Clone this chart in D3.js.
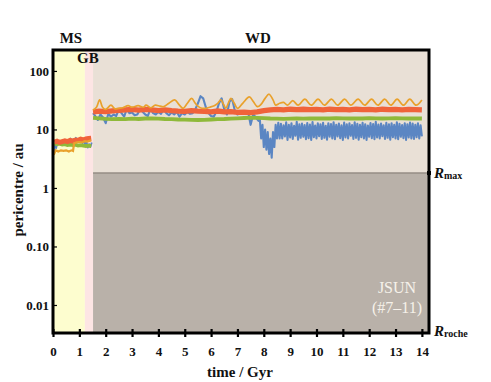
<!DOCTYPE html>
<html>
<head>
<meta charset="utf-8">
<script src="https://cdn.jsdelivr.net/npm/d3@7"></script>
<style>
  html, body { margin: 0; padding: 0; background: #ffffff; }
  svg { display: block; }
  text { font-family: "Liberation Serif", "DejaVu Serif", serif; }
</style>
</head>
<body>
<svg id="chart" width="491" height="382"></svg>
<script>
// ---------------- data ----------------
const xTicks = [0,1,2,3,4,5,6,7,8,9,10,11,12,13,14];
const yTicks = [100, 10, 1, 0.1, 0.01];
const yTickLabels = ["100", "10", "1", "0.10", "0.01"];

const phaseNames = ["MS", "GB", "WD"];
const phaseStart = [0, 1.21, 1.52];
const phaseEnd   = [1.21, 1.52, 14.27];
const rMax = 1.8;
const rRoche = 0.00332;

const msT = [0.05,0.15,0.25,0.35,0.45,0.55,0.65,0.75,0.85,0.95,1.05,1.15,1.25,1.35,1.45];
const redMsV   = [6.1,6.3,6.0,6.2,6.4,6.2,6.5,6.3,6.6,6.5,6.8,6.6,6.9,7.0,7.1];
const greenMsV = [5.8,5.6,5.7,5.5,5.6,5.4,5.5,5.4,5.5,5.3,5.4,5.3,5.2,5.3,5.2];

const wdT = [1.52,1.75,2,2.25,2.5,2.75,3,3.25,3.5,3.75,4,4.25,4.5,4.75,5,5.25,5.5,5.75,6,6.25,
             6.5,6.75,7,7.25,7.5,7.75,8,8.25,8.5,8.75,9,9.25,9.5,9.75,10,10.25,10.5,10.75,11,11.25,
             11.5,11.75,12,12.25,12.5,12.75,13,13.25,13.5,13.75,14];
const redWdV = [20,20.6,20.2,20.8,21.2,21.6,22,21.4,22,21.6,
                21,21.6,21,20.6,20.4,21,20.6,20.4,20,20.6,
                20,20.2,19.6,19.8,19.4,20,21,21.6,22,21.6,
                22.2,21.8,22.2,21.8,22,21.6,22.2,21.8,22,21.6,
                22.2,21.8,22,21.6,22.2,21.8,22,21.6,22,21.8,21.6];
const greenWdV = [15.8,15.5,15.2,15.0,15.2,15.0,15.3,15.1,15.4,15.5,
                  15.3,15.1,15.0,14.8,14.7,14.6,14.5,14.6,14.8,15.0,
                  15.1,15.3,15.5,15.7,15.9,15.8,15.6,15.4,15.3,15.2,
                  15.3,15.4,15.3,15.5,15.4,15.5,15.4,15.6,15.5,15.4,
                  15.5,15.4,15.6,15.5,15.4,15.5,15.6,15.5,15.4,15.5,15.4];

const orangeMs = [[0.03,3.7],[0.1,4.4],[0.2,4.2],[0.3,4.4],[0.4,4.3],[0.5,4.4],[0.6,4.2],[0.7,4.4],
                  [0.76,4.3],[0.8,5.8],[0.9,6.0],[1.0,6.1],[1.1,6.0],[1.2,6.3],[1.3,6.2],[1.45,6.5]];
const orangeWd = [[1.52,21.5],[1.65,24],[1.77,32],[1.88,24],[2.0,22],[2.2,26],[2.35,22.5],[2.5,23],
                  [2.65,23.5],[2.85,25.5],[3.0,24],[3.23,25.5],[3.43,24],[3.53,26],[3.72,23.5],[3.88,26],
                  [4.06,25],[4.2,24.5],[4.4,28],[4.62,32],[4.8,26],[4.94,23],[5.1,28],[5.26,34],
                  [5.4,28],[5.52,24.5],[5.65,23],[5.8,23],[5.95,24],[6.12,25.5],[6.25,28],[6.37,32],
                  [6.47,27],[6.56,23],[6.65,28],[6.75,34],[6.88,28],[7.0,23],[7.2,28],[7.45,36],
                  [7.6,30],[7.76,24.5],[7.9,27],[8.05,34],[8.2,40],[8.35,32],[8.45,26],[8.6,28],
                  [8.75,29],[8.9,26],[9.1,31],[9.3,26],[9.56,33],[9.8,26],[10.06,33],[10.3,26],
                  [10.57,33],[10.8,26],[11.07,33],[11.3,26],[11.58,33],[11.83,26],[12.09,33],[12.33,26],
                  [12.59,33],[12.82,26],[13.06,33],[13.3,26],[13.54,33],[13.78,26],[14.0,32]];

const blueMs = [[0.02,4.0],[0.07,5.5],[0.12,4.8],[0.17,6.0],[0.22,5.6],[0.27,6.2],[0.32,5.8],[0.37,6.5],
                [0.42,6.0],[0.47,6.3],[0.52,5.9],[0.57,6.6],[0.62,6.1],[0.67,7.0],[0.72,6.2],[0.77,6.8],
                [0.82,6.3],[0.87,7.2],[0.92,6.4],[0.97,6.9],[1.02,6.2],[1.07,6.7],[1.12,5.8],[1.17,6.5],
                [1.22,5.5],[1.27,6.3],[1.32,4.9],[1.37,5.6],[1.42,5.0],[1.47,6.0]];
const blueWd = [[1.52,19],[1.6,17],[1.7,14.5],[1.8,18],[1.9,16],[2.0,12.8],[2.1,18.5],[2.2,16.5],[2.3,18],[2.4,17],
                [2.5,22],[2.6,19],[2.7,16.5],[2.8,22.5],[2.9,19],[3.0,19.5],[3.1,17.5],[3.2,18],[3.3,22],[3.4,20],
                [3.5,18],[3.6,17],[3.7,22.5],[3.8,19],[3.9,18],[4.0,20],[4.1,18.5],[4.2,22],[4.3,19],[4.4,17.5],
                [4.5,19.5],[4.6,18],[4.7,20],[4.8,16.5],[4.9,19],[5.0,18],[5.1,20],[5.2,18.5],[5.3,19],[5.4,22],
                [5.5,28],[5.6,37],[5.7,34],[5.8,24],[5.9,19],[6.0,17],[6.1,16.5],[6.2,20],[6.3,28],[6.4,34],
                [6.5,22],[6.6,18],[6.7,30],[6.8,33],[6.9,21],[7.0,18],[7.1,19],[7.2,20],[7.3,19.5],[7.4,20.5],
                [7.5,12],[7.6,18],[7.7,16],[7.8,14]];
// late oscillating part of the blue orbit, sampled every 0.05 Gyr from 7.85 Gyr
const blueBandStart = 7.85, blueBandStep = 0.05;
const blueBandV = [15,7,12,5,10,4.5,9,3.8,7,3.3,9,5,12,7,13,7,
  12.5,7.0,11.8,7.6,13.2,6.6,12.0,7.3,12.8,6.9,
  11.5,7.8,13.5,6.7,12.2,7.2,12.6,7.5,11.9,6.8,
  12.9,7.1,12.1,6.6,13.4,7.4,11.7,7.0,12.7,7.7,
  12.3,6.9,13.0,7.2,11.6,6.7,12.8,7.5,12.4,7.0,
  13.3,6.8,12.0,7.6,12.6,7.1,11.8,6.6,13.1,7.3,
  12.2,7.0,12.7,7.8,11.9,6.9,13.2,7.2,12.5,6.7,
  12.0,7.4,13.0,7.0,12.3,6.6,11.7,7.5,12.9,7.1,
  12.4,6.8,13.5,7.3,12.1,7.0,12.6,7.7,11.8,6.9,
  13.0,7.2,12.2,6.7,12.8,7.4,12.0,7.0,13.3,6.8,
  12.5,7.5,11.9,7.1,12.7,6.6,12.3,7.3,13.1,7.0,
  12.6,6.9,12.0,7.4,12.8,7.0,11.8,7.6];

// ---------------- layout ----------------
const L = 53, R = 429, T = 50, B = 333;
const COL = { blue: "#5b86c3", orange: "#e9a12c", red: "#f0633a", green: "#8fb93a" };

const svg = d3.select("#chart");
const x = d3.scaleLinear().domain([0, 14.27]).range([L, R]);
const y = d3.scaleLog().domain([rRoche, 228]).range([B, T]);

// backgrounds
const bg = svg.append("g");
bg.append("rect").attr("x", x(phaseStart[0])).attr("y", T)
  .attr("width", x(phaseEnd[0]) - x(phaseStart[0])).attr("height", B - T).attr("fill", "#fdfdcf");
bg.append("rect").attr("x", x(phaseStart[1])).attr("y", T)
  .attr("width", x(phaseEnd[1]) - x(phaseStart[1])).attr("height", B - T).attr("fill", "#fde5e4");
bg.append("rect").attr("x", x(phaseStart[2])).attr("y", T)
  .attr("width", x(phaseEnd[2]) - x(phaseStart[2])).attr("height", y(rMax) - T).attr("fill", "#e9e0d6");
bg.append("rect").attr("x", x(phaseStart[2])).attr("y", y(rMax))
  .attr("width", x(phaseEnd[2]) - x(phaseStart[2])).attr("height", B - y(rMax)).attr("fill", "#b9b1a9");
bg.append("line").attr("x1", x(phaseStart[2])).attr("x2", R).attr("y1", y(rMax)).attr("y2", y(rMax))
  .attr("stroke", "#958c84").attr("stroke-width", 1.5);

svg.append("defs").append("clipPath").attr("id", "clip")
  .append("rect").attr("x", L).attr("y", T).attr("width", R - L).attr("height", B - T);

const plot = svg.append("g").attr("clip-path", "url(#clip)");
const lineP = d3.line().x(d => x(d[0])).y(d => y(d[1]));
const zip = (ts, vs) => ts.map((t, i) => [t, vs[i]]);

const blueBand = blueBandV.map((v, i) => [blueBandStart + i * blueBandStep, v]);

// blue
plot.append("path").datum(blueMs).attr("d", lineP).attr("fill", "none")
  .attr("stroke", COL.blue).attr("stroke-width", 1.8).attr("stroke-linejoin", "round");
plot.append("path").datum(blueWd.concat(blueBand)).attr("d", lineP).attr("fill", "none")
  .attr("stroke", COL.blue).attr("stroke-width", 2.1).attr("stroke-linejoin", "round");
// green
plot.append("path").datum(zip(msT, greenMsV)).attr("d", lineP).attr("fill", "none")
  .attr("stroke", COL.green).attr("stroke-width", 3.8);
plot.append("path").datum(zip(wdT, greenWdV)).attr("d", lineP).attr("fill", "none")
  .attr("stroke", COL.green).attr("stroke-width", 3.8);
// red
plot.append("path").datum(zip(msT, redMsV)).attr("d", lineP).attr("fill", "none")
  .attr("stroke", COL.red).attr("stroke-width", 5);
plot.append("path").datum(zip(wdT, redWdV)).attr("d", lineP).attr("fill", "none")
  .attr("stroke", COL.red).attr("stroke-width", 5.4);
// orange
const lineC = d3.line().x(d => x(d[0])).y(d => y(d[1])).curve(d3.curveCatmullRom);
plot.append("path").datum(orangeMs).attr("d", lineP).attr("fill", "none")
  .attr("stroke", COL.orange).attr("stroke-width", 2.2);
plot.append("path").datum(orangeWd).attr("d", lineC).attr("fill", "none")
  .attr("stroke", COL.orange).attr("stroke-width", 1.7);

// axes
const xAxis = svg.append("g").attr("transform", `translate(0,${B})`)
  .call(d3.axisBottom(x).tickValues(xTicks).tickFormat(d3.format("d")).tickSize(4).tickPadding(10));
xAxis.select(".domain").remove();
xAxis.selectAll(".tick line").attr("y1", -4).attr("y2", 4).attr("stroke", "#000").attr("stroke-width", 2.2);
xAxis.selectAll(".tick text").attr("font-family", "Liberation Serif, serif").attr("font-weight", "bold")
  .attr("font-size", 13).attr("fill", "#111");

const yAxis = svg.append("g").attr("transform", `translate(${L},0)`)
  .call(d3.axisLeft(y).tickValues(yTicks).tickFormat((d, i) => yTickLabels[i]).tickSize(-4).tickPadding(4));
yAxis.select(".domain").remove();
yAxis.selectAll(".tick line").attr("stroke", "#000").attr("stroke-width", 1.2);
yAxis.selectAll(".tick text").attr("font-family", "Liberation Serif, serif").attr("font-weight", "bold")
  .attr("font-size", 13).attr("fill", "#111");

// frame
svg.append("rect").attr("x", L).attr("y", T).attr("width", R - L).attr("height", B - T)
  .attr("fill", "none").attr("stroke", "#000").attr("stroke-width", 3);
svg.append("rect").attr("x", R - 2).attr("y", y(rMax) - 2).attr("width", 4).attr("height", 4).attr("fill", "#000");

// phase labels
const lab = (tx, ty, s, size) => svg.append("text").attr("x", tx).attr("y", ty).text(s)
    .attr("font-weight", "bold").attr("font-size", size).attr("text-anchor", "middle").attr("fill", "#111");
lab((x(phaseStart[0]) + x(phaseEnd[0])) / 2 + 2, 43, phaseNames[0], 15);
lab(x(phaseStart[1]) + 3, 63, phaseNames[1], 15);
lab(258, 43, phaseNames[2], 15);

// axis titles
svg.append("text").attr("x", 240).attr("y", 377).attr("text-anchor", "middle")
  .attr("font-weight", "bold").attr("font-size", 15).attr("fill", "#111").text("time / Gyr");
svg.append("text").attr("transform", "translate(23,190) rotate(-90)").attr("text-anchor", "middle")
  .attr("font-weight", "bold").attr("font-size", 15).attr("fill", "#111").text("pericentre / au");

// R labels
const rLab = (ty, sub) => {
  const t = svg.append("text").attr("x", 434).attr("y", ty).attr("fill", "#111");
  t.append("tspan").attr("font-weight", "bold").attr("font-style", "italic").attr("font-size", 15).text("R");
  t.append("tspan").attr("font-weight", "bold").attr("font-size", 10).attr("dy", 1).text(sub);
};
rLab(y(rMax) + 5, "max");
rLab(B + 3, "roche");

// JSUN
svg.append("text").attr("x", 397).attr("y", 293).attr("text-anchor", "middle")
  .attr("font-size", 16).attr("fill", "#f6f1ea").text("JSUN");
svg.append("text").attr("x", 397).attr("y", 313).attr("text-anchor", "middle")
  .attr("font-size", 16).attr("fill", "#f6f1ea").text("(#7\u201311)");
</script>
</body>
</html>
